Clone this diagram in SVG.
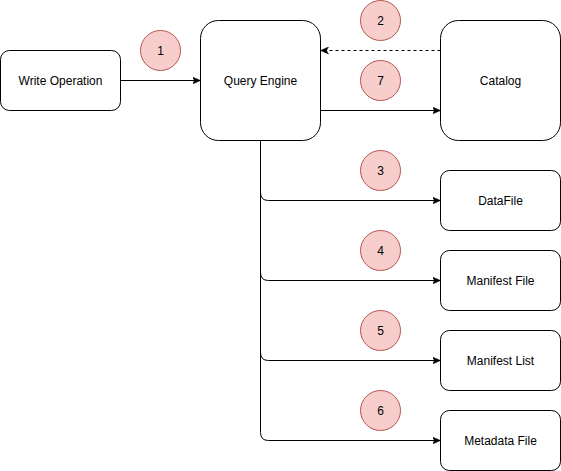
<svg xmlns="http://www.w3.org/2000/svg" width="561" height="471" viewBox="0 0 561 471">
<defs>
<style>
.box{fill:#ffffff;stroke:#000000;stroke-width:1}
.num{fill:#f8cecc;stroke:#b85450;stroke-width:1}
.lbl{font-family:"Liberation Sans",Arial,sans-serif;font-size:12px;fill:#000000;text-anchor:middle;dominant-baseline:central}
.edge{fill:none;stroke:#000000;stroke-width:1}
.dash{stroke-dasharray:3 3}
</style>
<marker id="arr" markerUnits="userSpaceOnUse" viewBox="0 0 8 8" refX="8" refY="4" markerWidth="8" markerHeight="8" orient="auto">
<path d="M0,0.5 L8,4 L0,7.5 L2,4 Z" fill="#000000" stroke="#000000" stroke-width="0.5"/>
</marker>
</defs>
<rect width="561" height="471" fill="#ffffff"/>
<g id="connectors">
<path class="edge" d="M120.5,80.5 L200.5,80.5" marker-end="url(#arr)"/>
<path class="edge dash" d="M440.5,50.5 L320.5,50.5" marker-end="url(#arr)"/>
<path class="edge" d="M320.5,110.5 L440.5,110.5" marker-end="url(#arr)"/>
<path class="edge" d="M260.5,140.5 L260.5,192.5 Q260.5,200.5 268.5,200.5 L440.5,200.5" marker-end="url(#arr)"/>
<path class="edge" d="M260.5,140.5 L260.5,272.5 Q260.5,280.5 268.5,280.5 L440.5,280.5" marker-end="url(#arr)"/>
<path class="edge" d="M260.5,140.5 L260.5,352.5 Q260.5,360.5 268.5,360.5 L440.5,360.5" marker-end="url(#arr)"/>
<path class="edge" d="M260.5,140.5 L260.5,432.5 Q260.5,440.5 268.5,440.5 L440.5,440.5" marker-end="url(#arr)"/>
</g>
<g id="write-operation">
<rect class="box" x="0.5" y="50.5" width="120" height="60" rx="9" ry="9"/>
<text class="lbl" x="60.5" y="80.5">Write Operation</text>
</g>
<g id="query-engine">
<rect class="box" x="200.5" y="20.5" width="120" height="120" rx="18" ry="18"/>
<text class="lbl" x="260.5" y="80.5">Query Engine</text>
</g>
<g id="catalog">
<rect class="box" x="440.5" y="20.5" width="120" height="120" rx="18" ry="18"/>
<text class="lbl" x="500.5" y="80.5">Catalog</text>
</g>
<g id="datafile">
<rect class="box" x="440.5" y="170.5" width="120" height="60" rx="9" ry="9"/>
<text class="lbl" x="500.5" y="200.5">DataFile</text>
</g>
<g id="manifest-file">
<rect class="box" x="440.5" y="250.5" width="120" height="60" rx="9" ry="9"/>
<text class="lbl" x="500.5" y="280.5">Manifest File</text>
</g>
<g id="manifest-list">
<rect class="box" x="440.5" y="330.5" width="120" height="60" rx="9" ry="9"/>
<text class="lbl" x="500.5" y="360.5">Manifest List</text>
</g>
<g id="metadata-file">
<rect class="box" x="440.5" y="410.5" width="120" height="60" rx="9" ry="9"/>
<text class="lbl" x="500.5" y="440.5">Metadata File</text>
</g>
<g id="step-1"><circle class="num" cx="160.5" cy="50.5" r="20"/><text class="lbl" x="160.5" y="50.5">1</text></g>
<g id="step-2"><circle class="num" cx="380.5" cy="20.5" r="20"/><text class="lbl" x="380.5" y="20.5">2</text></g>
<g id="step-7"><circle class="num" cx="380.5" cy="80.5" r="20"/><text class="lbl" x="380.5" y="80.5">7</text></g>
<g id="step-3"><circle class="num" cx="380.5" cy="170.5" r="20"/><text class="lbl" x="380.5" y="170.5">3</text></g>
<g id="step-4"><circle class="num" cx="380.5" cy="250.5" r="20"/><text class="lbl" x="380.5" y="250.5">4</text></g>
<g id="step-5"><circle class="num" cx="380.5" cy="330.5" r="20"/><text class="lbl" x="380.5" y="330.5">5</text></g>
<g id="step-6"><circle class="num" cx="380.5" cy="410.5" r="20"/><text class="lbl" x="380.5" y="410.5">6</text></g>
</svg>
